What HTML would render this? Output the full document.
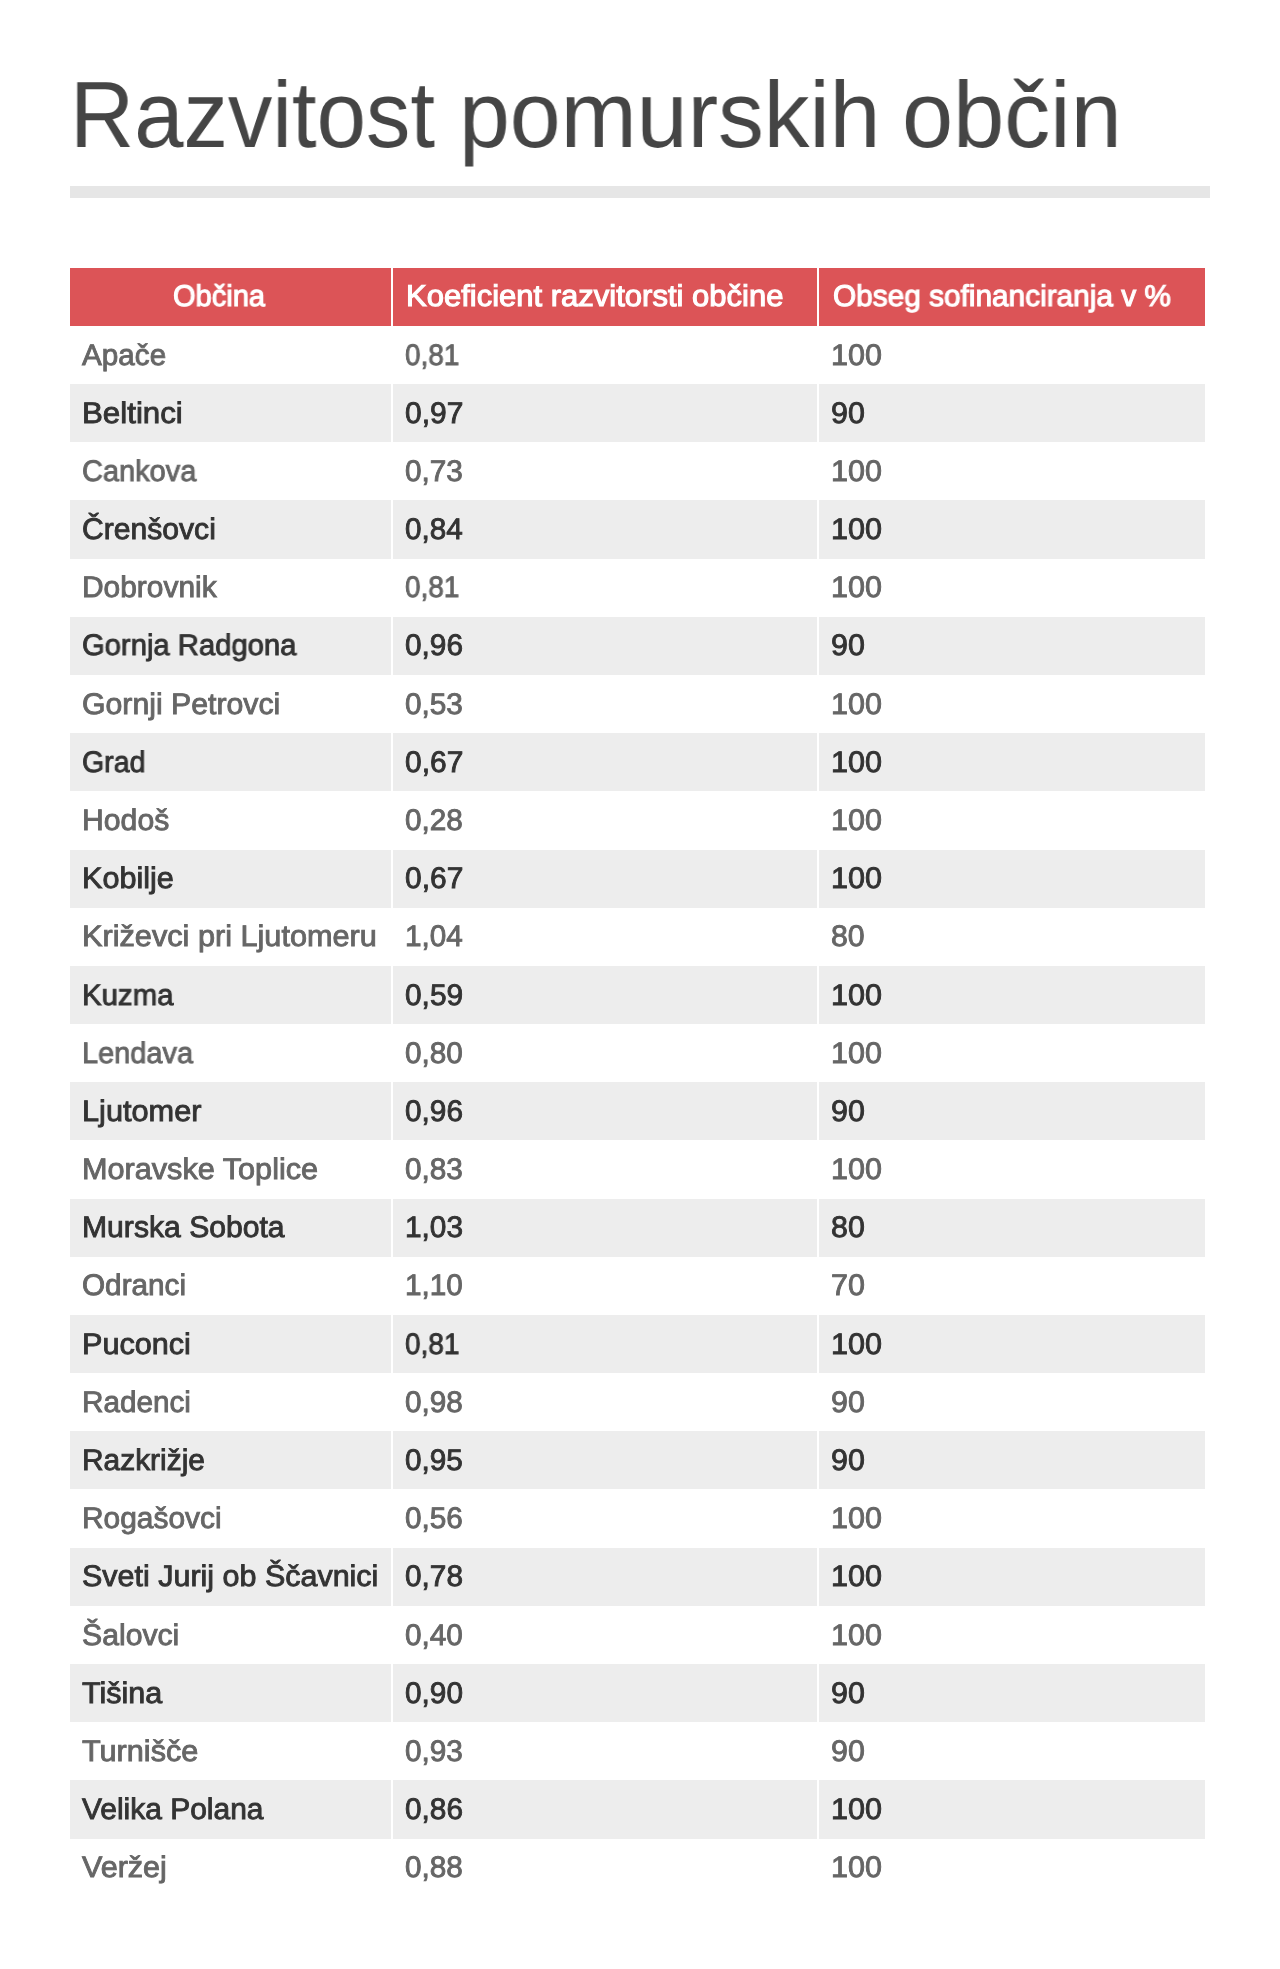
<!DOCTYPE html><html><head><meta charset="utf-8"><title>Razvitost pomurskih občin</title><style>
*{margin:0;padding:0;box-sizing:border-box}
html,body{width:1280px;height:1969px;background:#fff;overflow:hidden}
body{position:relative;font-family:"Liberation Sans",sans-serif;text-rendering:geometricPrecision}
.t{position:absolute;will-change:transform;left:70px;top:60px;font-size:94px;line-height:110px;color:#454545;white-space:nowrap;transform-origin:0 0;transform:scaleX(0.9585)}
.bar{position:absolute;left:70px;top:186px;width:1140px;height:12px;background:#e6e6e6}
.r{position:absolute;left:0;height:58.18px;width:1280px}
.c{position:absolute;top:0;height:100%}
.a{left:70px;width:321px}
.b{left:393px;width:423.8px}
.d{left:819px;width:386.3px}
.g .c{background:#ededed}
.h .c{background:#dc5457}
.x{position:absolute;top:0.7px;white-space:nowrap;will-change:transform;font-size:29.7px;line-height:58.18px;transform-origin:0 50%;-webkit-text-stroke:0.9px currentColor}
.a .x{left:11.6px;transform:scaleX(1.0)}
.b .x{left:12.4px;transform:scaleX(0.975)}
.d .x{left:12.3px;transform:scaleX(1.0)}
.w .x{color:#666}
.g .x{color:#333}
.h .x{color:#fff;font-weight:400;font-size:30px;top:0.5px;-webkit-text-stroke:1.1px #fff}
.h .a .x{left:103.2px;transform:scaleX(0.969)}
.h .b .x{left:12.8px;transform:scaleX(1.0336)}
.h .d .x{left:13.6px;transform:scaleX(0.9932)}
</style></head><body>
<div class="t" style="left:69.73px;transform:scaleX(0.9441)">Razvitost</div>
<div class="t" style="left:458.75px;transform:scaleX(0.972)">pomurskih</div>
<div class="t" style="left:901.58px;transform:scaleX(0.9776)">občin</div>
<div class="bar"></div>
<div class="r h" style="top:267.7px"><div class="c a"><span class="x">Občina</span></div><div class="c b"><span class="x">Koeficient razvitorsti občine</span></div><div class="c d"><span class="x">Obseg sofinanciranja v %</span></div></div>
<div class="r w" style="top:325.88px"><div class="c a"><span class="x" style="transform:scaleX(0.9984)">Apače</span></div><div class="c b"><span class="x" style="left:11.89px;transform:scaleX(0.9405)">0,81</span></div><div class="c d"><span class="x" style="left:11.86px;transform:scaleX(1.0282)">100</span></div></div>
<div class="r g" style="top:384.06px"><div class="c a"><span class="x" style="transform:scaleX(1.0533)">Beltinci</span></div><div class="c b"><span class="x" style="left:11.72px;transform:scaleX(1.0089)">0,97</span></div><div class="c d"><span class="x" style="left:12.13px;transform:scaleX(1.0247)">90</span></div></div>
<div class="r w" style="top:442.24px"><div class="c a"><span class="x" style="transform:scaleX(0.9755)">Cankova</span></div><div class="c b"><span class="x" style="left:11.75px;transform:scaleX(1.0025)">0,73</span></div><div class="c d"><span class="x" style="left:11.86px;transform:scaleX(1.0282)">100</span></div></div>
<div class="r g" style="top:500.42px"><div class="c a"><span class="x" style="transform:scaleX(1.0139)">Črenšovci</span></div><div class="c b"><span class="x" style="left:11.72px;transform:scaleX(0.9936)">0,84</span></div><div class="c d"><span class="x" style="left:11.79px;transform:scaleX(1.0302)">100</span></div></div>
<div class="r w" style="top:558.60px"><div class="c a"><span class="x" style="transform:scaleX(1.0074)">Dobrovnik</span></div><div class="c b"><span class="x" style="left:11.89px;transform:scaleX(0.9405)">0,81</span></div><div class="c d"><span class="x" style="left:11.86px;transform:scaleX(1.0282)">100</span></div></div>
<div class="r g" style="top:616.78px"><div class="c a"><span class="x" style="transform:scaleX(0.9846)">Gornja Radgona</span></div><div class="c b"><span class="x" style="left:11.72px;transform:scaleX(1.004)">0,96</span></div><div class="c d"><span class="x" style="left:12.13px;transform:scaleX(1.0247)">90</span></div></div>
<div class="r w" style="top:674.96px"><div class="c a"><span class="x" style="transform:scaleX(1.0186)">Gornji Petrovci</span></div><div class="c b"><span class="x" style="left:11.75px;transform:scaleX(1.0025)">0,53</span></div><div class="c d"><span class="x" style="left:11.86px;transform:scaleX(1.0282)">100</span></div></div>
<div class="r g" style="top:733.14px"><div class="c a"><span class="x" style="transform:scaleX(0.9615)">Grad</span></div><div class="c b"><span class="x" style="left:11.72px;transform:scaleX(1.0089)">0,67</span></div><div class="c d"><span class="x" style="left:11.79px;transform:scaleX(1.0302)">100</span></div></div>
<div class="r w" style="top:791.32px"><div class="c a"><span class="x" style="transform:scaleX(1.0169)">Hodoš</span></div><div class="c b"><span class="x" style="left:11.75px;transform:scaleX(1.0021)">0,28</span></div><div class="c d"><span class="x" style="left:11.86px;transform:scaleX(1.0282)">100</span></div></div>
<div class="r g" style="top:849.50px"><div class="c a"><span class="x" style="transform:scaleX(1.0294)">Kobilje</span></div><div class="c b"><span class="x" style="left:11.72px;transform:scaleX(1.0089)">0,67</span></div><div class="c d"><span class="x" style="left:11.79px;transform:scaleX(1.0302)">100</span></div></div>
<div class="r w" style="top:907.68px"><div class="c a"><span class="x" style="transform:scaleX(1.0331)">Križevci pri Ljutomeru</span></div><div class="c b"><span class="x" style="left:11.56px;transform:scaleX(0.9951)">1,04</span></div><div class="c d"><span class="x" style="left:12.35px;transform:scaleX(1.0202)">80</span></div></div>
<div class="r g" style="top:965.86px"><div class="c a"><span class="x" style="transform:scaleX(0.9893)">Kuzma</span></div><div class="c b"><span class="x" style="left:11.72px;transform:scaleX(1.0058)">0,59</span></div><div class="c d"><span class="x" style="left:11.79px;transform:scaleX(1.0302)">100</span></div></div>
<div class="r w" style="top:1024.04px"><div class="c a"><span class="x" style="transform:scaleX(0.975)">Lendava</span></div><div class="c b"><span class="x" style="left:11.75px;transform:scaleX(1.0021)">0,80</span></div><div class="c d"><span class="x" style="left:11.86px;transform:scaleX(1.0282)">100</span></div></div>
<div class="r g" style="top:1082.22px"><div class="c a"><span class="x" style="transform:scaleX(1.0341)">Ljutomer</span></div><div class="c b"><span class="x" style="left:11.72px;transform:scaleX(1.004)">0,96</span></div><div class="c d"><span class="x" style="left:12.13px;transform:scaleX(1.0247)">90</span></div></div>
<div class="r w" style="top:1140.40px"><div class="c a"><span class="x" style="transform:scaleX(1.0319)">Moravske Toplice</span></div><div class="c b"><span class="x" style="left:11.75px;transform:scaleX(1.0025)">0,83</span></div><div class="c d"><span class="x" style="left:11.86px;transform:scaleX(1.0282)">100</span></div></div>
<div class="r g" style="top:1198.58px"><div class="c a"><span class="x" style="transform:scaleX(1.0148)">Murska Sobota</span></div><div class="c b"><span class="x" style="left:12.49px;transform:scaleX(1.004)">1,03</span></div><div class="c d"><span class="x" style="left:12.29px;transform:scaleX(1.0225)">80</span></div></div>
<div class="r w" style="top:1256.76px"><div class="c a"><span class="x" style="transform:scaleX(1.0012)">Odranci</span></div><div class="c b"><span class="x" style="left:11.639999999999999px;transform:scaleX(0.9992)">1,10</span></div><div class="c d"><span class="x" style="left:12.02px;transform:scaleX(1.0261)">70</span></div></div>
<div class="r g" style="top:1314.94px"><div class="c a"><span class="x" style="transform:scaleX(1.0298)">Puconci</span></div><div class="c b"><span class="x" style="left:11.82px;transform:scaleX(0.942)">0,81</span></div><div class="c d"><span class="x" style="left:11.79px;transform:scaleX(1.0302)">100</span></div></div>
<div class="r w" style="top:1373.12px"><div class="c a"><span class="x" style="transform:scaleX(0.9965)">Radenci</span></div><div class="c b"><span class="x" style="left:11.75px;transform:scaleX(1.0021)">0,98</span></div><div class="c d"><span class="x" style="left:12.14px;transform:scaleX(1.0237)">90</span></div></div>
<div class="r g" style="top:1431.30px"><div class="c a"><span class="x" style="transform:scaleX(1.0069)">Razkrižje</span></div><div class="c b"><span class="x" style="left:11.72px;transform:scaleX(1.0012)">0,95</span></div><div class="c d"><span class="x" style="left:12.13px;transform:scaleX(1.0247)">90</span></div></div>
<div class="r w" style="top:1489.48px"><div class="c a"><span class="x" style="transform:scaleX(1.007)">Rogašovci</span></div><div class="c b"><span class="x" style="left:11.75px;transform:scaleX(1.0023)">0,56</span></div><div class="c d"><span class="x" style="left:11.86px;transform:scaleX(1.0282)">100</span></div></div>
<div class="r g" style="top:1547.66px"><div class="c a"><span class="x" style="transform:scaleX(1.0264)">Sveti Jurij ob Ščavnici</span></div><div class="c b"><span class="x" style="left:11.72px;transform:scaleX(1.0031)">0,78</span></div><div class="c d"><span class="x" style="left:11.79px;transform:scaleX(1.0302)">100</span></div></div>
<div class="r w" style="top:1605.84px"><div class="c a"><span class="x" style="transform:scaleX(1.0169)">Šalovci</span></div><div class="c b"><span class="x" style="left:11.75px;transform:scaleX(1.0021)">0,40</span></div><div class="c d"><span class="x" style="left:11.86px;transform:scaleX(1.0282)">100</span></div></div>
<div class="r g" style="top:1664.02px"><div class="c a"><span class="x" style="transform:scaleX(1.0285)">Tišina</span></div><div class="c b"><span class="x" style="left:11.72px;transform:scaleX(1.0032)">0,90</span></div><div class="c d"><span class="x" style="left:12.13px;transform:scaleX(1.0247)">90</span></div></div>
<div class="r w" style="top:1722.20px"><div class="c a"><span class="x" style="transform:scaleX(1.0318)">Turnišče</span></div><div class="c b"><span class="x" style="left:11.75px;transform:scaleX(1.0025)">0,93</span></div><div class="c d"><span class="x" style="left:12.14px;transform:scaleX(1.0237)">90</span></div></div>
<div class="r g" style="top:1780.38px"><div class="c a"><span class="x" style="transform:scaleX(1.0085)">Velika Polana</span></div><div class="c b"><span class="x" style="left:11.72px;transform:scaleX(1.004)">0,86</span></div><div class="c d"><span class="x" style="left:11.79px;transform:scaleX(1.0302)">100</span></div></div>
<div class="r w" style="top:1838.56px"><div class="c a"><span class="x" style="transform:scaleX(1.0283)">Veržej</span></div><div class="c b"><span class="x" style="left:11.75px;transform:scaleX(1.0021)">0,88</span></div><div class="c d"><span class="x" style="left:11.86px;transform:scaleX(1.0282)">100</span></div></div>
</body></html>
